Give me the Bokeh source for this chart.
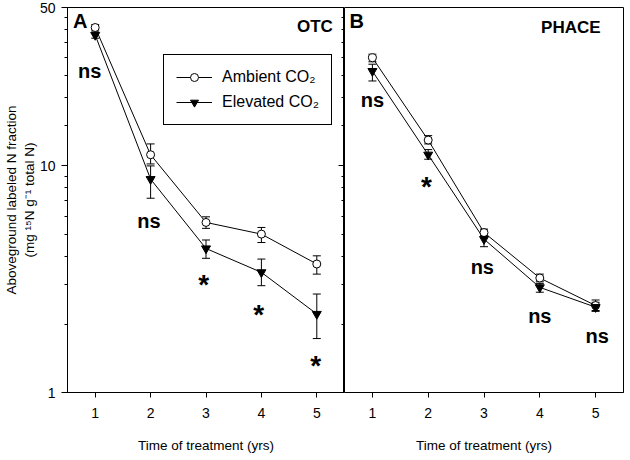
from bokeh.plotting import figure
from bokeh.models import (FixedTicker, Whisker, TeeHead, ColumnDataSource, Legend,
                          LegendItem, LinearAxis)
from bokeh.layouts import row
from bokeh.embed import file_html
from bokeh.resources import INLINE
from bokeh.core.properties import value

FONT = "Liberation Sans"

years = [1, 2, 3, 4, 5]

# OTC (panel A)
otc_amb = [40.8, 11.2, 5.63, 5.0, 3.69]
otc_amb_hi = [42.0, 12.5, 5.96, 5.35, 4.01]
otc_amb_lo = [39.8, 10.2, 5.30, 4.59, 3.33]
otc_ele = [37.8, 8.74, 4.32, 3.39, 2.22]
otc_ele_hi = [39.0, 10.0, 4.71, 3.88, 2.72]
otc_ele_lo = [36.6, 7.2, 3.91, 2.96, 1.73]

# PHACE (panel B)
ph_amb = [30.0, 13.0, 5.08, 3.20, 2.42]
ph_amb_hi = [31.1, 13.6, 5.26, 3.33, 2.56]
ph_amb_lo = [28.8, 12.5, 4.92, 3.08, 2.30]
ph_ele = [26.2, 11.2, 4.75, 2.91, 2.38]
ph_ele_hi = [28.1, 11.8, 4.95, 3.03, 2.50]
ph_ele_lo = [23.7, 10.7, 4.40, 2.77, 2.28]

# significance labels
otc_sig = ["ns", "ns", "*", "*", "*"]
otc_sig_x = [0.9, 1.97, 2.96, 3.95, 4.98]
otc_sig_y = [26.3, 5.72, 3.0, 2.21, 1.31]
ph_sig = ["ns", "*", "ns", "ns", "ns"]
ph_sig_x = [1.0, 1.97, 2.97, 4.0, 5.03]
ph_sig_y = [19.5, 8.1, 3.58, 2.18, 1.78]

y_major = [1, 10, 50]
y_minor = [2, 3, 4, 5, 6, 7, 8, 9, 15, 20, 25, 30, 35, 40, 45]

H = 456
TOP = 7
BOTTOM = 64


def base_fig(width, left, right):
    p = figure(width=width, height=H, x_range=(0.5, 5.5), y_range=(1, 50),
               y_axis_type="log", output_backend="svg", toolbar_location=None,
               min_border_left=left, min_border_right=right,
               min_border_top=TOP, min_border_bottom=BOTTOM)
    p.xgrid.visible = False
    p.ygrid.visible = False
    p.outline_line_color = "black"
    p.outline_line_width = 1
    p.outline_line_alpha = 1
    p.background_fill_color = "white"
    p.border_fill_color = "white"
    xa = p.xaxis[0]
    xa.ticker = FixedTicker(ticks=years)
    xa.major_tick_out = 5
    xa.major_tick_in = 0
    xa.minor_tick_out = 0
    xa.minor_tick_in = 0
    xa.axis_line_color = "black"
    xa.major_tick_line_color = "black"
    xa.major_label_text_font = FONT
    xa.major_label_text_font_size = "14px"
    xa.major_label_text_color = "black"
    xa.major_label_standoff = 10
    xa.axis_label = "Time of treatment (yrs)"
    xa.axis_label_text_font = FONT
    xa.axis_label_text_font_size = "13.5px"
    xa.axis_label_text_font_style = "normal"
    xa.axis_label_text_color = "black"
    xa.axis_label_standoff = 17
    return p


def style_yaxis(ax, show_labels):
    ax.ticker = FixedTicker(ticks=y_major, minor_ticks=y_minor)
    ax.axis_line_color = "black"
    ax.major_tick_line_color = "black"
    ax.minor_tick_line_color = "black"
    ax.major_label_text_font = FONT
    ax.major_label_text_color = "black"
    ax.major_label_text_font_size = "14px"
    if show_labels:
        ax.major_label_overrides = {1: "1", 10: "10", 50: "50"}
        ax.major_tick_out = 6
        ax.major_tick_in = 0
        ax.minor_tick_out = 3
        ax.minor_tick_in = 0
        ax.major_label_standoff = 6
    else:
        ax.major_label_overrides = {1: "", 10: "", 50: ""}
        ax.major_tick_out = 0
        ax.major_tick_in = 6
        ax.minor_tick_out = 0
        ax.minor_tick_in = 3
        ax.major_label_standoff = 0


def draw_series(p, amb, amb_hi, amb_lo, ele, ele_hi, ele_lo):
    sa = ColumnDataSource(dict(x=years, y=amb, hi=amb_hi, lo=amb_lo))
    se = ColumnDataSource(dict(x=years, y=ele, hi=ele_hi, lo=ele_lo))
    la = p.line("x", "y", source=sa, line_color="black", line_width=1)
    le = p.line("x", "y", source=se, line_color="black", line_width=1)
    for s in (sa, se):
        w = Whisker(base="x", upper="hi", lower="lo", source=s,
                    line_color="black", line_width=1,
                    upper_head=TeeHead(size=8, line_color="black", line_width=1),
                    lower_head=TeeHead(size=8, line_color="black", line_width=1))
        p.add_layout(w)
    ma = p.scatter("x", "y", source=sa, marker="circle", size=8,
                   fill_color="white", line_color="black", line_width=1)
    me = p.scatter("x", "y", source=se, marker="inverted_triangle", size=9,
                   fill_color="black", line_color="black", line_width=1)
    return (la, ma), (le, me)


def draw_sig(p, xs, ys, labels):
    ns_x = [x for x, t in zip(xs, labels) if t == "ns"]
    ns_y = [y for y, t in zip(ys, labels) if t == "ns"]
    st_x = [x for x, t in zip(xs, labels) if t == "*"]
    st_y = [y for y, t in zip(ys, labels) if t == "*"]
    p.text(x=ns_x, y=ns_y, text=["ns"] * len(ns_x), text_font=value(FONT),
           text_font_style="bold", text_font_size="20px",
           text_align="center", text_baseline="middle", text_color="black")
    p.text(x=st_x, y=st_y, text=["*"] * len(st_x), text_font=value(FONT),
           text_font_style="bold", text_font_size="28px",
           text_align="center", text_baseline="middle", text_color="black")


def corner_text(p, x, y, t, size, align):
    p.text(x=[x], y=[y], text=[t], text_font=value(FONT), text_font_style="bold",
           text_font_size=size, text_align=align, text_baseline="middle",
           text_color="black")


# ---------- Panel A ----------
p1 = base_fig(344, 66, 0)
style_yaxis(p1.yaxis[0], True)
p1.yaxis[0].axis_label = "Aboveground labeled N fraction\n(mg \u00b9\u2075N g\u207b\u00b9 total N)"
p1.yaxis[0].axis_label_text_font = FONT
p1.yaxis[0].axis_label_text_font_size = "13.5px"
p1.yaxis[0].axis_label_text_font_style = "normal"
p1.yaxis[0].axis_label_text_color = "black"
p1.yaxis[0].axis_label_standoff = 0
rax = LinearAxis()
p1.add_layout(rax, "right")
style_yaxis(rax, False)

(la, ma), (le, me) = draw_series(p1, otc_amb, otc_amb_hi, otc_amb_lo,
                                 otc_ele, otc_ele_hi, otc_ele_lo)
draw_sig(p1, otc_sig_x, otc_sig_y, otc_sig)
corner_text(p1, 0.73, 43.5, "A", "20px", "center")
corner_text(p1, 5.29, 41.4, "OTC", "17px", "right")

legend = Legend(items=[LegendItem(label="Ambient CO\u2082", renderers=[la, ma]),
                       LegendItem(label="Elevated CO\u2082", renderers=[le, me])],
                location=(96, 267), orientation="vertical")
legend.border_line_color = "black"
legend.border_line_width = 1
legend.border_line_alpha = 1
legend.background_fill_color = "white"
legend.background_fill_alpha = 1
legend.padding = 12
legend.spacing = 5
legend.margin = 0
legend.glyph_width = 36
legend.glyph_height = 20
legend.label_height = 20
legend.label_standoff = 10
legend.label_text_font = FONT
legend.label_text_font_size = "16px"
legend.label_text_color = "black"
p1.add_layout(legend)

# ---------- Panel B ----------
p2 = base_fig(280, 0, 1)
p2.yaxis.visible = False
draw_series(p2, ph_amb, ph_amb_hi, ph_amb_lo, ph_ele, ph_ele_hi, ph_ele_lo)
draw_sig(p2, ph_sig_x, ph_sig_y, ph_sig)
corner_text(p2, 0.72, 43.5, "B", "20px", "center")
corner_text(p2, 5.09, 41.0, "PHACE", "17px", "right")

layout = row(p1, p2, spacing=0)
open("out.html", "w").write(file_html(layout, INLINE))
